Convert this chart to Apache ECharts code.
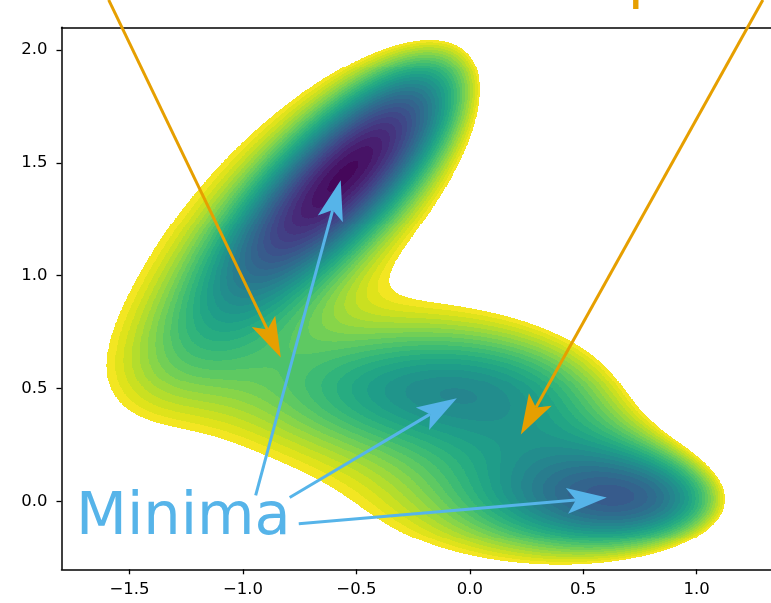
<!DOCTYPE html>
<html>
<head>
<meta charset="utf-8">
<script src="https://cdn.jsdelivr.net/npm/echarts@6/dist/echarts.min.js"></script>
<style>
html, body { margin: 0; padding: 0; background: #fff; }
#main { width: 771px; height: 603px; }
</style>
</head>
<body>
<div id="main"></div>
<script>
// Muller-Brown potential, 4 gaussian terms
var mbA  = [-200, -100, -170, 15];
var mbA2 = [-1, -1, -6.5, 0.7];
var mbB  = [0, 0, 11, 0.6];
var mbC  = [-10, -10, -6.5, 0.7];
var mbX0 = [1, 0, -0.5, -1];
var mbY0 = [0, 0.5, 1.5, 1];

// filled contour levels
var levelMin = -150;
var levelMax = 0;
var levelStep = 5;

// axes (right edge of the figure is cropped)
var xRange = [-1.8, 1.328];
var yRange = [-0.3, 2.1];
var xTicks = [-1.5, -1.0, -0.5, 0.0, 0.5, 1.0];
var yTicks = [0.0, 0.5, 1.0, 1.5, 2.0];

// annotation arrows [xStart, yStart, xTip, yTip]
var minimaArrows = [
	[-0.944, 0.027, -0.569, 1.423],
	[-0.794, 0.018, -0.057, 0.457],
	[-0.754, -0.098, 0.604, 0.018]
];
var saddleArrows = [
	[-1.592, 2.221, -0.833, 0.638],
	[1.292, 2.221, 0.225, 0.297]
];

var BLUE = '#56B4E9';
var ORANGE = '#E69F00';

// viridis anchors
var viridis = ['#440154', '#48186a', '#472d7b', '#424086', '#3b528b', '#33638d', '#2c728e', '#26828e',
	'#21918c', '#1fa088', '#28ae80', '#3fbc73', '#5ec962', '#84d44b', '#addc30', '#d8e219', '#fde725'];

function hex2rgb(h) {
	return [parseInt(h.substr(1, 2), 16), parseInt(h.substr(3, 2), 16), parseInt(h.substr(5, 2), 16)];
}
function viridisAt(t) {
	var p = t * (viridis.length - 1);
	var i = Math.min(Math.floor(p), viridis.length - 2);
	var f = p - i;
	var a = hex2rgb(viridis[i]), b = hex2rgb(viridis[i + 1]);
	return 'rgb(' + Math.round(a[0] + (b[0] - a[0]) * f) + ',' + Math.round(a[1] + (b[1] - a[1]) * f) + ',' + Math.round(a[2] + (b[2] - a[2]) * f) + ')';
}

function potential(x, y) {
	var v = 0;
	for (var k = 0; k < mbA.length; k++) {
		var dx = x - mbX0[k], dy = y - mbY0[k];
		v += mbA[k] * Math.exp(mbA2[k] * dx * dx + mbB[k] * dx * dy + mbC[k] * dy * dy);
	}
	return v;
}

var nLevels = Math.round((levelMax - levelMin) / levelStep);
var bandColors = [];
for (var b = 0; b < nLevels; b++) {
	bandColors.push(viridisAt((b + 0.5) / nLevels));
}

// sample grid (about one pixel per row), merged into horizontal runs of one band
var cellW = 0.0025, cellH = 0.0044;
var nx = Math.round((xRange[1] - xRange[0]) / cellW);
var ny = Math.round((yRange[1] - yRange[0]) / cellH);
var cells = [];
for (var j = 0; j < ny; j++) {
	var y = yRange[0] + (j + 0.5) * cellH;
	var run = -1, start = 0;
	for (var i = 0; i <= nx; i++) {
		var band = -1;
		if (i < nx) {
			var v = potential(xRange[0] + (i + 0.5) * cellW, y);
			if (v < levelMax && v >= levelMin) band = Math.floor((v - levelMin) / levelStep);
		}
		if (band !== run) {
			if (run >= 0) cells.push([xRange[0] + start * cellW, xRange[0] + i * cellW, y, run]);
			run = band;
			start = i;
		}
	}
}

function fmtTick(v) {
	return v.toFixed(1).replace('-', '\u2212');
}

function arrowRender(color) {
	return function(params, api) {
		var p0 = api.coord([api.value(0), api.value(1)]);
		var p1 = api.coord([api.value(2), api.value(3)]);
		var ddx = p1[0] - p0[0], ddy = p1[1] - p0[1];
		var len = Math.sqrt(ddx * ddx + ddy * ddy);
		var ux = ddx / len, uy = ddy / len;
		var nxv = -uy, nyv = ux;
		var L = 40, W = 13, N = 9;
		var bx = p1[0] - ux * L, by = p1[1] - uy * L;
		var notch = [p1[0] - ux * (L - N), p1[1] - uy * (L - N)];
		return {
			type: 'group',
			children: [{
				type: 'line',
				shape: { x1: p0[0], y1: p0[1], x2: notch[0], y2: notch[1] },
				style: { stroke: color, lineWidth: 3 }
			}, {
				type: 'polygon',
				shape: { points: [[p1[0], p1[1]], [bx + nxv * W, by + nyv * W], notch, [bx - nxv * W, by - nyv * W]] },
				style: { fill: color }
			}]
		};
	};
}

var tickLabelStyle = { fontFamily: 'DejaVu Sans', fontSize: 16.5, color: '#000' };

var myChart = echarts.init(document.getElementById('main'));
var option = {
	animation: false,
	backgroundColor: '#fff',
	grid: {
		left: 61.5,
		right: 0,
		top: 27.3,
		bottom: 33.7
	},
	xAxis: [{
		type: 'value',
		min: xRange[0],
		max: xRange[1],
		axisLine: { show: true, onZero: false, lineStyle: { color: '#000', width: 1.5 } },
		splitLine: { show: false },
		axisTick: { show: true, length: 5, customValues: xTicks, lineStyle: { color: '#000', width: 1.3 } },
		axisLabel: Object.assign({ customValues: xTicks, margin: 12, formatter: fmtTick }, tickLabelStyle)
	}, {
		// top spine only
		type: 'value',
		position: 'top',
		min: xRange[0],
		max: xRange[1],
		axisLine: { show: true, onZero: false, lineStyle: { color: '#000', width: 1.5 } },
		splitLine: { show: false },
		axisTick: { show: false },
		axisLabel: { show: false }
	}],
	yAxis: {
		type: 'value',
		min: yRange[0],
		max: yRange[1],
		axisLine: { show: true, onZero: false, lineStyle: { color: '#000', width: 1.5 } },
		splitLine: { show: false },
		axisTick: { show: true, length: 5, customValues: yTicks, lineStyle: { color: '#000', width: 1.3 } },
		axisLabel: Object.assign({ customValues: yTicks, margin: 14, formatter: fmtTick }, tickLabelStyle)
	},
	series: [{
		type: 'custom',
		name: 'potential',
		silent: true,
		z: 2,
		dimensions: ['x0', 'x1', 'y', 'band'],
		encode: { x: [0, 1], y: 2 },
		data: cells,
		renderItem: function(params, api) {
			var p0 = api.coord([api.value(0), api.value(2) + cellH / 2]);
			var p1 = api.coord([api.value(1), api.value(2) - cellH / 2]);
			var x0 = Math.round(p0[0]), x1 = Math.round(p1[0]);
			var y0 = Math.round(p0[1]), y1 = Math.round(p1[1]);
			if (x1 <= x0 || y1 <= y0) return null;
			return {
				type: 'rect',
				shape: { x: x0, y: y0, width: x1 - x0, height: y1 - y0 },
				style: { fill: bandColors[api.value(3)] }
			};
		}
	}, {
		type: 'custom',
		name: 'minima',
		silent: true,
		clip: false,
		z: 5,
		encode: { x: [0, 2], y: [1, 3] },
		data: minimaArrows,
		renderItem: arrowRender(BLUE)
	}, {
		type: 'custom',
		name: 'saddles',
		silent: true,
		clip: false,
		z: 5,
		encode: { x: [0, 2], y: [1, 3] },
		data: saddleArrows,
		renderItem: arrowRender(ORANGE)
	}],
	graphic: [{
		type: 'text',
		x: 76,
		y: 489,
		z: 10,
		style: { text: 'Minima', fontFamily: 'DejaVu Sans', fontSize: 59, fill: BLUE, align: 'left', verticalAlign: 'top' }
	}, {
		type: 'text',
		x: 92,
		y: -48,
		z: 10,
		style: { text: 'First-order saddle points', fontFamily: 'DejaVu Sans', fontSize: 59, fill: ORANGE, align: 'left', verticalAlign: 'top' }
	}]
};
myChart.setOption(option);
</script>
</body>
</html>
